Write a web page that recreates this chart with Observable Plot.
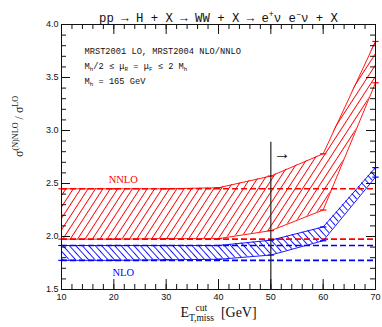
<!DOCTYPE html>
<html>
<head>
<meta charset="utf-8">
<script src="https://cdn.jsdelivr.net/npm/d3@7"></script>
<script src="https://cdn.jsdelivr.net/npm/@observablehq/plot@0.6"></script>
<style>
  html, body { margin: 0; padding: 0; background: white; }
  #chart svg { display: block; }
</style>
</head>
<body>
<div id="chart"></div>
<script>
// ---- data ----
const xCut = [10, 20, 30, 40, 50, 60, 70];
const nnloHi = [2.45, 2.45, 2.45, 2.46, 2.57, 2.78, 3.84];
const nnloLo = [1.975, 1.975, 1.98, 1.98, 2.055, 2.25, 3.45];
const nloHi = [1.915, 1.915, 1.915, 1.915, 1.965, 2.09, 2.65];
const nloLo = [1.775, 1.775, 1.78, 1.785, 1.825, 1.96, 2.56];
const nnloDashed = [2.45, 1.975];
const nloDashed = [1.915, 1.775];
const cutLineX = [50];
const cutLineTop = 2.89;

const xTickLabels = [10, 20, 30, 40, 50, 60, 70];
const yTickLabels = [1.5, 2.0, 2.5, 3.0, 3.5, 4.0];
const xMinorTicks = d3.range(10, 70.01, 2);
const yMinorTicks = d3.range(15, 40.01, 1).map(d => d / 10);

const titleText = "pp → H + X → WW + X → e^{+}ν e^{−}ν + X";
const infoLines = [
  "MRST2001 LO, MRST2004 NLO/NNLO",
  "M_{h}/2 ≤ μ_{R} = μ_{F} ≤ 2 M_{h}",
  "M_{h} = 165 GeV"
];
const yLabel = "σ^{(N)NLO} / σ^{LO}";
const xLabel = "E_{T,miss}^{cut}  [GeV]";
const bandLabels = [
  {x: 21.8, y: 2.54, text: "NNLO", color: "#ff0000"},
  {x: 21.8, y: 1.655, text: "NLO", color: "#0000ff"}
];
const arrowNote = [{x: 52.2, y: 2.785, text: "→"}];

const RED = "#ff0000", BLUE = "#0000ff";
const nnloRows = xCut.map((x, i) => ({x, lo: nnloLo[i], hi: nnloHi[i]}));
const nloRows = xCut.map((x, i) => ({x, lo: nloLo[i], hi: nloHi[i]}));

const plotH = 327 - 24 - 38, plotW = 382 - 61 - 7;
const dash = {draw(ctx, size) { const r = 3.2; ctx.moveTo(-r, 0); ctx.lineTo(r, 0); }};
const mono = "Liberation Mono, monospace";
const serif = "Liberation Serif, DejaVu Serif, serif";

const svg = Plot.plot({
  width: 382, height: 327,
  marginTop: 24, marginRight: 7, marginBottom: 38, marginLeft: 61,
  x: {domain: [10, 70], axis: null},
  y: {domain: [1.5, 4.0], axis: null},
  style: {fontFamily: "Liberation Sans, sans-serif", background: "white", overflow: "visible"},
  marks: [
    Plot.areaY(nnloRows, {x: "x", y1: "lo", y2: "hi", fill: "url(#hatchRed)"}),
    Plot.areaY(nloRows, {x: "x", y1: "lo", y2: "hi", fill: "url(#hatchBlue)"}),
    Plot.ruleY(nnloDashed, {y: d => d, stroke: RED, strokeWidth: 1.6, strokeDasharray: "6,3"}),
    Plot.ruleY(nloDashed, {y: d => d, stroke: BLUE, strokeWidth: 1.6, strokeDasharray: "6,3"}),
    Plot.line(nnloRows, {x: "x", y: "hi", stroke: RED, strokeWidth: 0.9}),
    Plot.line(nnloRows, {x: "x", y: "lo", stroke: RED, strokeWidth: 0.9}),
    Plot.line(nloRows, {x: "x", y: "hi", stroke: BLUE, strokeWidth: 0.9}),
    Plot.line(nloRows, {x: "x", y: "lo", stroke: BLUE, strokeWidth: 0.9}),
    Plot.dot(nnloRows, {x: "x", y: "hi", symbol: dash, stroke: RED, strokeWidth: 1.2}),
    Plot.dot(nnloRows, {x: "x", y: "lo", symbol: dash, stroke: RED, strokeWidth: 1.2}),
    Plot.dot(nloRows, {x: "x", y: "hi", symbol: dash, stroke: BLUE, strokeWidth: 1.2}),
    Plot.dot(nloRows, {x: "x", y: "lo", symbol: dash, stroke: BLUE, strokeWidth: 1.2}),
    Plot.ruleX(cutLineX, {x: d => d, y1: 1.5, y2: cutLineTop, stroke: "#222", strokeWidth: 1.2}),
    Plot.text(arrowNote, {x: "x", y: "y", text: "text", fontSize: 17, fill: "#111", fontFamily: serif}),
    Plot.text(bandLabels, {x: "x", y: "y", text: "text", fill: "color", fontSize: 10.5, fontFamily: serif}),
    // ticks: bottom / top
    Plot.tickX(xMinorTicks, {x: d => d, insetTop: plotH - 5, stroke: "#111"}),
    Plot.tickX(xTickLabels, {x: d => d, insetTop: plotH - 10, stroke: "#111"}),
    Plot.tickX(xMinorTicks, {x: d => d, insetBottom: plotH - 5, stroke: "#111"}),
    Plot.tickX(xTickLabels, {x: d => d, insetBottom: plotH - 10, stroke: "#111"}),
    // ticks: left / right
    Plot.tickY(yMinorTicks, {y: d => d, insetRight: plotW - 5, stroke: "#111"}),
    Plot.tickY(yTickLabels, {y: d => d, insetRight: plotW - 9, stroke: "#111"}),
    Plot.tickY(yMinorTicks, {y: d => d, insetLeft: plotW - 5, stroke: "#111"}),
    Plot.tickY(yTickLabels, {y: d => d, insetLeft: plotW - 9, stroke: "#111"}),
    Plot.frame({stroke: "#111", strokeWidth: 1}),
    Plot.text(xTickLabels, {x: d => d, text: d => String(d), frameAnchor: "bottom", dy: 10, fontSize: 9, fill: "#111"}),
    Plot.text(yTickLabels, {y: d => d, text: d => d.toFixed(1), frameAnchor: "left", dx: -3, textAnchor: "end", fontSize: 9, fill: "#111"}),
    Plot.text([titleText], {text: d => d, frameAnchor: "top", dy: -11, fontSize: 12.3, fontFamily: mono, fill: "#111"}),
    Plot.text([infoLines[0]], {text: d => d, frameAnchor: "top-left", dx: 23, dy: 23, textAnchor: "start", fontSize: 8.7, fontFamily: mono, fill: "#111"}),
    Plot.text([infoLines[1]], {text: d => d, frameAnchor: "top-left", dx: 23, dy: 38, textAnchor: "start", fontSize: 8.7, fontFamily: mono, fill: "#111"}),
    Plot.text([infoLines[2]], {text: d => d, frameAnchor: "top-left", dx: 23, dy: 53, textAnchor: "start", fontSize: 8.7, fontFamily: mono, fill: "#111"}),
    Plot.text([yLabel], {text: d => d, frameAnchor: "left", dx: -42, rotate: -90, fontSize: 12, fontFamily: serif, fill: "#111"}),
    Plot.text([xLabel], {text: d => d, frameAnchor: "bottom", dy: 27, fontSize: 14, fontFamily: serif, fill: "#111"})
  ]
});

// hatch patterns
const ns = "http://www.w3.org/2000/svg";
const defs = document.createElementNS(ns, "defs");
function hatch(id, color, spacing, angle, sw) {
  const p = document.createElementNS(ns, "pattern");
  p.setAttribute("id", id);
  p.setAttribute("patternUnits", "userSpaceOnUse");
  p.setAttribute("width", spacing);
  p.setAttribute("height", 10);
  p.setAttribute("patternTransform", `rotate(${angle})`);
  const l = document.createElementNS(ns, "line");
  l.setAttribute("x1", spacing / 2); l.setAttribute("x2", spacing / 2);
  l.setAttribute("y1", -1); l.setAttribute("y2", 11);
  l.setAttribute("stroke", color); l.setAttribute("stroke-width", sw);
  p.appendChild(l);
  defs.appendChild(p);
}
hatch("hatchRed", RED, 6.2, 33, 0.9);
hatch("hatchBlue", BLUE, 4.8, -42, 0.9);
svg.insertBefore(defs, svg.firstChild);

document.getElementById("chart").appendChild(svg);

// rich text: _{..} subscripts and ^{..} superscripts
function richify(el) {
  const s = el.textContent;
  const fs = parseFloat(getComputedStyle(el).fontSize) || 10;
  const parts = s.split(/(_\{[^}]*\}|\^\{[^}]*\})/).filter(p => p !== "");
  el.textContent = "";
  let offset = 0, prev = null, pending = 0;
  for (const part of parts) {
    const t = document.createElementNS(ns, "tspan");
    let target = 0, size = fs, txt = part, kind = "n";
    if (part.startsWith("_{")) { kind = "sub"; target = fs * 0.3; size = fs * 0.68; txt = part.slice(2, -1); }
    else if (part.startsWith("^{")) { kind = "sup"; target = -fs * 0.42; size = fs * 0.68; txt = part.slice(2, -1); }
    t.textContent = txt;
    t.setAttribute("font-size", size);
    t.setAttribute("dy", target - offset);
    offset = target;
    if (pending) { t.setAttribute("dx", pending); pending = 0; }
    el.appendChild(t);
    if (kind === "sup" && prev && prev.kind === "sub") {
      const subLen = prev.el.getComputedTextLength();
      const supLen = t.getComputedTextLength();
      t.setAttribute("dx", -(subLen + supLen) / 2);
      pending = Math.max(0, (subLen - supLen) / 2);
    }
    prev = {kind, el: t};
  }
}
svg.querySelectorAll("text").forEach(el => {
  if (/[_^]\{/.test(el.textContent)) richify(el);
});
</script>
</body>
</html>
